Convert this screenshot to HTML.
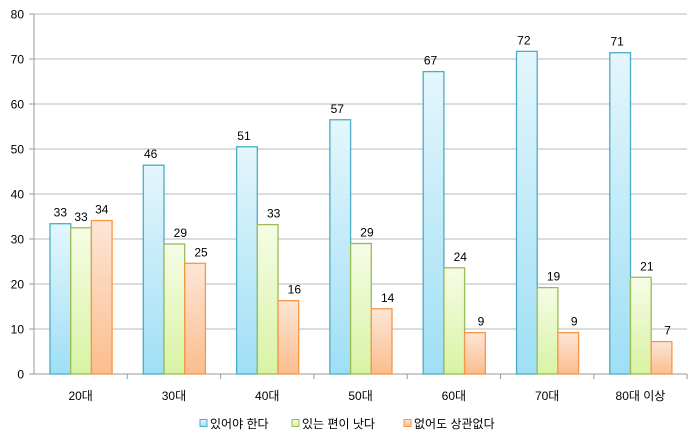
<!DOCTYPE html>
<html><head><meta charset="utf-8"><style>
html,body{margin:0;padding:0;background:#fff;width:700px;height:443px;overflow:hidden}
svg text{font-family:"Liberation Sans","Noto Sans CJK KR",sans-serif;fill:#000}
</style></head><body>
<svg id="c" width="700" height="443" xmlns="http://www.w3.org/2000/svg">
<defs>
<linearGradient id="gb" x1="0" y1="0" x2="0" y2="1"><stop offset="0" stop-color="#e4f6fc"/><stop offset="1" stop-color="#9fdff5"/></linearGradient>
<linearGradient id="gg" x1="0" y1="0" x2="0" y2="1"><stop offset="0" stop-color="#f6fce6"/><stop offset="1" stop-color="#d8f3a4"/></linearGradient>
<linearGradient id="go" x1="0" y1="0" x2="0" y2="1"><stop offset="0" stop-color="#fde6d6"/><stop offset="1" stop-color="#fbbd8e"/></linearGradient>
</defs>
</svg>
<script>
var s=document.getElementById('c'),h='';
var y0=374,k=4.5,x0=34,gw=93.3,bw=20.7;
for(var i=0;i<=8;i++){var y=y0-i*45;
 if(i>0)h+='<line x1="'+x0+'" x2="687" y1="'+y+'" y2="'+y+'" stroke="#b8b8b8" stroke-width="1"/>';
 h+='<line x1="29" x2="34" y1="'+y+'" y2="'+y+'" stroke="#999"/>';
 h+='<text x="24" y="'+(y+4.5)+'" font-size="12" text-anchor="end">'+(i*10)+'</text>';}
h+='<line x1="34" x2="34" y1="14" y2="374" stroke="#999"/>';
h+='<line x1="34" x2="687" y1="374" y2="374" stroke="#999"/>';
var cats=['20대','30대','40대','50대','60대','70대','80대 이상'];
var d=[[33.4,32.5,34.1],[46.4,28.9,24.6],[50.5,33.2,16.3],[56.5,29,14.5],[67.2,23.6,9.2],[71.7,19.2,9.2],[71.4,21.5,7.2]];
var lb=[[33,33,34],[46,29,25],[51,33,16],[57,29,14],[67,24,9],[72,19,9],[71,21,7]];
var f=['url(#gb)','url(#gg)','url(#go)'],st=['#4bacc6','#9bbb59','#f79646'];
for(var g=0;g<7;g++){var gx=x0+g*gw;
 h+='<line x1="'+(gx+gw)+'" x2="'+(gx+gw)+'" y1="374" y2="379" stroke="#999"/>';
 h+='<text x="'+(gx+gw/2)+'" y="400" font-size="12" text-anchor="middle">'+cats[g]+'</text>';
 for(var j=0;j<3;j++){var bx=gx+16+j*bw,by=y0-d[g][j]*k;
  h+='<rect x="'+bx+'" y="'+by+'" width="'+bw+'" height="'+(y0-by)+'" fill="'+f[j]+'" stroke="'+st[j]+'" stroke-width="1.3"/>';
  var lx=g==0?bx+bw/2:bx+bw/2+(j==0?-3:6);
  h+='<text x="'+lx+'" y="'+(by-7)+'" font-size="12" text-anchor="middle">'+lb[g][j]+'</text>';}}
var L=[[200,'있어야 한다',0],[292,'있는 편이 낫다',1],[404,'없어도 상관없다',2]];
L.forEach(function(l){h+='<rect x="'+l[0]+'" y="419.5" width="7" height="7" fill="'+f[l[2]]+'" stroke="'+st[l[2]]+'"/>';
 h+='<text x="'+(l[0]+10)+'" y="428" font-size="12">'+l[1]+'</text>';});
s.insertAdjacentHTML('beforeend',h);
</script>
</body></html>
